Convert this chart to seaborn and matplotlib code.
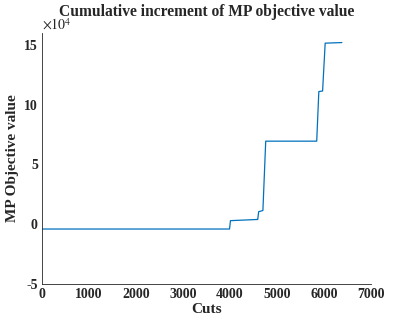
import matplotlib
matplotlib.use("Agg")
import matplotlib.pyplot as plt
import seaborn as sns
import pandas as pd

cuts = [0, 3990, 4010, 4590, 4610, 4700, 4760, 5845, 5890, 5970, 6025, 6380]
obj_1e4 = [-0.4, -0.4, 0.3, 0.4, 1.05, 1.15, 6.95, 6.95, 11.1, 11.15, 15.15, 15.2]
xticks = [0, 1000, 2000, 3000, 4000, 5000, 6000, 7000]
yticks = [-5, 0, 5, 10, 15]

sns.set_style("white")
plt.rcParams['font.family'] = ['Liberation Serif', 'DejaVu Serif']
plt.rcParams['mathtext.fontset'] = 'stix'

df = pd.DataFrame({"Cuts": cuts, "val": [v * 1e4 for v in obj_1e4]})

fig = plt.figure(figsize=(3.98, 3.28), dpi=100)
ax = fig.add_axes([42/398, 1-284/328, (371-42)/398, (284-33)/328])
sns.lineplot(data=df, x="Cuts", y="val", ax=ax, color="#0072BD", linewidth=0.9, estimator=None, sort=False)

ax.set_xlim(0, 7000)
ax.set_ylim(-5e4, 16e4)
ax.set_xticks(xticks)
ax.set_xticklabels([str(t) for t in xticks], fontsize=10, fontweight='bold')
ax.set_yticks([t * 1e4 for t in yticks])
ax.set_yticklabels([str(t) for t in yticks], fontsize=10, fontweight='bold')
ax.tick_params(direction='in', length=3, width=0.6, colors='#262626', pad=3)
for s in ['top', 'right']:
    ax.spines[s].set_visible(False)
for s in ['left', 'bottom']:
    ax.spines[s].set_color('#262626')
    ax.spines[s].set_linewidth(0.6)

ax.set_xlabel("Cuts", fontsize=11, fontweight='bold', labelpad=1)
ax.set_ylabel("MP Objective value", fontsize=11, fontweight='bold', labelpad=4)
fig.text(206.5/398, 1-12/328, "Cumulative increment of MP objective value",
         fontsize=11.2, fontweight='bold', ha='center', va='center')
ax.text(0.0, 1.0, r"$\times10^4$", transform=ax.transAxes, fontsize=10, ha='left', va='bottom')

fig.savefig("out.png", dpi=100)
